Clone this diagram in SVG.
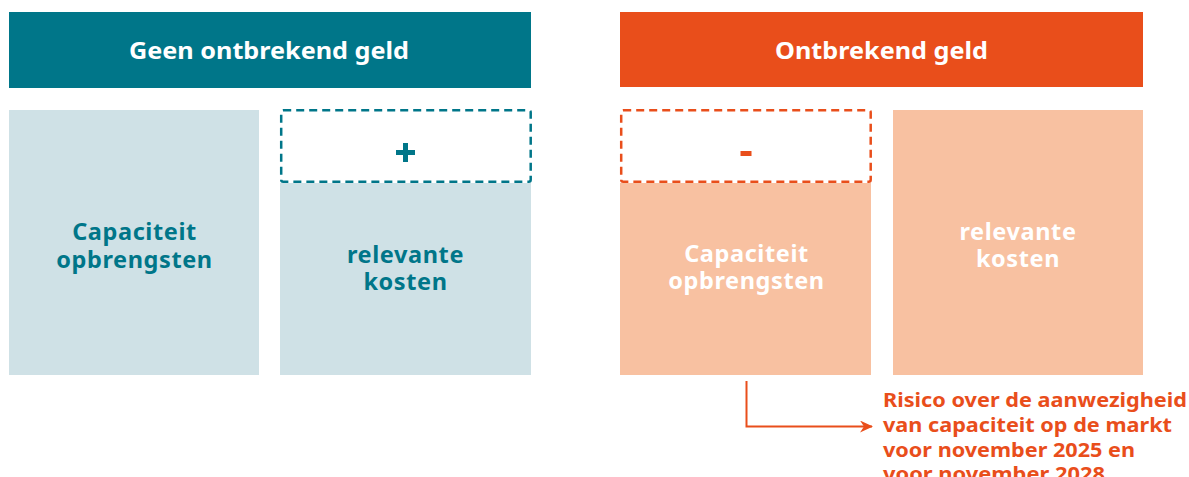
<svg xmlns="http://www.w3.org/2000/svg" width="1189" height="477" viewBox="0 0 1189 477">
<style>
text{font-family:"Noto Sans","Open Sans","Liberation Sans",sans-serif;font-weight:700;}
.hdr{font-size:22.5px;fill:#fff;text-anchor:middle;}
.lbl{font-size:23.5px;text-anchor:middle;letter-spacing:0.6px;}
.teal{fill:#007689;}
.wht{fill:#fff;}
.note{font-size:20px;fill:#E94E1B;}
.dash{fill:#fff;stroke-width:2.5;stroke-dasharray:8 5;}
</style>
<defs>
<marker id="arr" markerWidth="14" markerHeight="12" refX="12" refY="6" orient="auto" markerUnits="userSpaceOnUse">
<path d="M0,0 L13,6 L0,12 L4,6 Z" fill="#E94E1B"/>
</marker>
</defs>
<g id="header-left">
<rect x="9" y="12" width="522" height="76" fill="#007689"/>
<text class="hdr" x="269" y="59" textLength="280" lengthAdjust="spacingAndGlyphs">Geen ontbrekend geld</text>
</g>
<g id="header-right">
<rect x="620" y="12" width="523" height="75" fill="#E94E1B"/>
<text class="hdr" x="881.5" y="59" textLength="213" lengthAdjust="spacingAndGlyphs">Ontbrekend geld</text>
</g>
<g id="left-capaciteit">
<rect x="9" y="110" width="250" height="265" fill="#CFE1E6"/>
<text class="lbl teal" x="134.5" y="240">Capaciteit</text>
<text class="lbl teal" x="134.5" y="268">opbrengsten</text>
</g>
<g id="left-kosten">
<rect x="280" y="183" width="251" height="192" fill="#CFE1E6"/>
<rect class="dash" x="281.2" y="110.2" width="249.5" height="71.5" rx="2" stroke="#007689"/>
<path d="M403,143 h5 v7 h7 v5 h-7 v7 h-5 v-7 h-7 v-5 h7 z" fill="#007689"/>
<text class="lbl teal" x="405.5" y="263">relevante</text>
<text class="lbl teal" x="405.5" y="290">kosten</text>
</g>
<g id="right-capaciteit">
<rect x="620" y="183" width="251" height="192" fill="#F8C1A1"/>
<rect class="dash" x="621.2" y="110.2" width="249.5" height="71.5" rx="2" stroke="#E94E1B"/>
<rect x="740.5" y="151" width="11" height="5" fill="#E94E1B"/>
<text class="lbl wht" x="746.5" y="262">Capaciteit</text>
<text class="lbl wht" x="746.5" y="289">opbrengsten</text>
</g>
<g id="right-kosten">
<rect x="893" y="110" width="250" height="265" fill="#F8C1A1"/>
<text class="lbl wht" x="1018" y="240">relevante</text>
<text class="lbl wht" x="1018" y="267">kosten</text>
</g>
<g id="connectors">
<path d="M746.5,381 V426.5 H872" fill="none" stroke="#E94E1B" stroke-width="2" marker-end="url(#arr)"/>
</g>
<g id="note">
<text class="note" x="883" y="406.5" textLength="304" lengthAdjust="spacingAndGlyphs">Risico over de aanwezigheid</text>
<text class="note" x="883" y="432" textLength="289" lengthAdjust="spacingAndGlyphs">van capaciteit op de markt</text>
<text class="note" x="883" y="457" textLength="252" lengthAdjust="spacingAndGlyphs">voor november 2025 en</text>
<text class="note" x="883" y="481" textLength="222" lengthAdjust="spacingAndGlyphs">voor november 2028</text>
</g>
</svg>
